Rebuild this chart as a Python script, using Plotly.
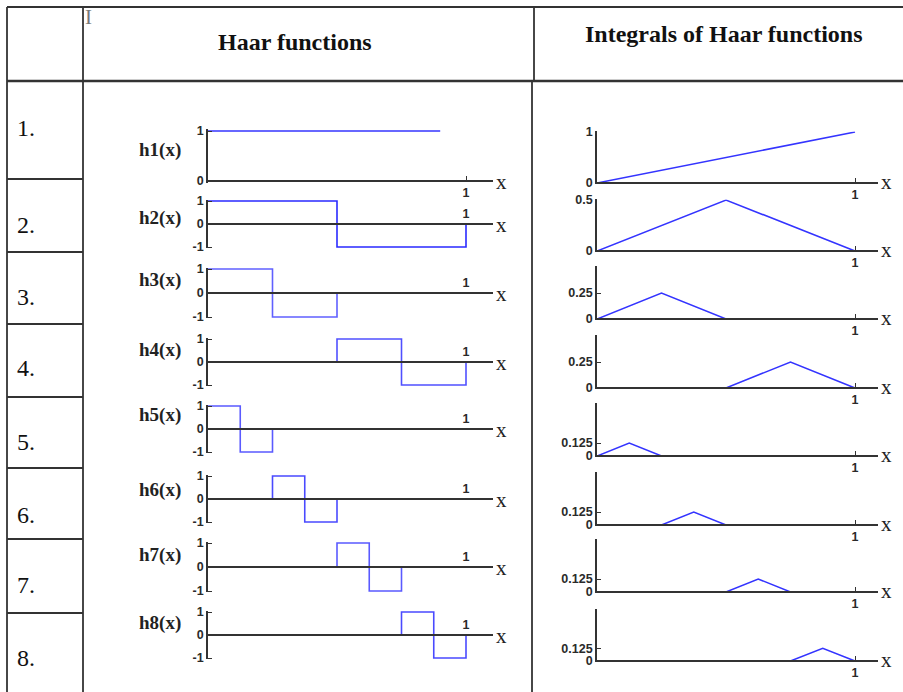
import plotly.graph_objects as go

W, H = 903, 692

# ---------------- data ----------------
row_numbers = ["1.", "2.", "3.", "4.", "5.", "6.", "7.", "8."]
haar_labels = ["h1(x)", "h2(x)", "h3(x)", "h4(x)", "h5(x)", "h6(x)", "h7(x)", "h8(x)"]

haar_x = [
    [0, 0.9],
    [0, 0.5, 1],
    [0, 0.25, 0.5, 1],
    [0, 0.5, 0.75, 1],
    [0, 0.125, 0.25, 1],
    [0, 0.25, 0.375, 0.5, 1],
    [0, 0.5, 0.625, 0.75, 1],
    [0, 0.75, 0.875, 1],
]
haar_y = [
    [1, 1],
    [1, -1, 0],
    [1, -1, 0, 0],
    [0, 1, -1, 0],
    [1, -1, 0, 0],
    [0, 1, -1, 0, 0],
    [0, 1, -1, 0, 0],
    [0, 1, -1, 0],
]

int_x = [
    [0, 1],
    [0, 0.5, 1],
    [0, 0.25, 0.5, 1],
    [0, 0.5, 0.75, 1],
    [0, 0.125, 0.25, 1],
    [0, 0.25, 0.375, 0.5, 1],
    [0, 0.5, 0.625, 0.75, 1],
    [0, 0.75, 0.875, 1],
]
int_y = [
    [0, 1],
    [0, 0.5, 0],
    [0, 0.25, 0, 0],
    [0, 0, 0.25, 0],
    [0, 0.125, 0, 0],
    [0, 0, 0.125, 0, 0],
    [0, 0, 0.125, 0, 0],
    [0, 0, 0.125, 0],
]
int_ticks = [[0, 1], [0, 0.5], [0, 0.25], [0, 0.25], [0, 0.125], [0, 0.125], [0, 0.125], [0, 0.125]]
int_ticktext = [["0", "1"], ["0", "0.5"], ["0", "0.25"], ["0", "0.25"],
                ["0", "0.125"], ["0", "0.125"], ["0", "0.125"], ["0", "0.125"]]
int_ymax = [1, 0.5, 0.5, 0.5, 0.5, 0.5, 0.5, 0.5]

# ---------------- layout geometry (pixels) ----------------
haar_top = [131, 201, 269, 339, 406, 476, 543, 612]
haar_zero = [181, 224, 293, 362, 429, 499, 567, 635]
haar_label_y = [150, 218, 280, 350, 415, 490, 555, 623]
int_top = [132, 200, 267, 336, 404, 473, 540, 610]
int_zero = [183, 251, 319, 388, 456, 525, 592, 661]
number_y = [128, 225, 297, 368, 442, 515, 585, 658]
row_sep = [179, 252, 324, 397, 468, 539, 613]

haar_colors = ["#3535ff", "#2a2aff", "#6060ff", "#5050ff", "#5a5aff", "#4a4aff", "#5a5aff", "#4a4aff"]

LX0, LX1, L_ONE = 208, 493, 466
RX0, RX1, R_ONE = 597, 878, 855
AXC = "#333333"
TICKFONT = dict(family="Liberation Sans, Arial", size=12.5, color="#2a2a2a", weight="bold")
SERIF = "Liberation Serif, Times New Roman"


def px_to_paper_y(p):
    return 1 - p / H


def domain_for(p_top, v_top, p_zero, lo, hi):
    ppu = (p_zero - p_top) / v_top
    top_px = p_zero - hi * ppu
    bot_px = p_zero - lo * ppu
    return [px_to_paper_y(bot_px), px_to_paper_y(top_px)]


fig = go.Figure()
layout = dict(
    template="none",
    width=W, height=H, autosize=False,
    margin=dict(l=0, r=0, t=0, b=0, pad=0, autoexpand=False),
    paper_bgcolor="white", plot_bgcolor="rgba(0,0,0,0)",
    showlegend=False,
)
annotations = []
shapes = []

common = dict(showline=True, linecolor=AXC, linewidth=1.8, showgrid=False, zeroline=False,
              ticklen=4, tickwidth=1.2, tickcolor=AXC, tickfont=TICKFONT, fixedrange=True,
              automargin=False)

for i in range(8):
    # ---------- left: Haar functions ----------
    k = 2 * i + 1
    xa, ya = ("x" if k == 1 else f"x{k}"), ("y" if k == 1 else f"y{k}")
    xk, yk = ("xaxis" if k == 1 else f"xaxis{k}"), ("yaxis" if k == 1 else f"yaxis{k}")
    if i == 0:
        lo, hi = -0.04, 1.05
        yt = [0, 1]
    else:
        lo, hi = -1.05, 1.05
        yt = [-1, 0, 1]
    ydom = domain_for(haar_top[i], 1, haar_zero[i], lo, hi)
    xmax = (LX1 - LX0) / (L_ONE - LX0)
    fig.add_trace(go.Scatter(x=haar_x[i], y=haar_y[i], mode="lines", line_shape="hv",
                             line=dict(color=haar_colors[i], width=1.6),
                             xaxis=xa, yaxis=ya, hoverinfo="skip"))
    layout[xk] = dict(domain=[LX0 / W, LX1 / W], range=[0, xmax], anchor="free",
                      position=px_to_paper_y(haar_zero[i]),
                      side="bottom" if i == 0 else "top",
                      tickvals=[1], ticktext=["1"], ticks="inside" if i == 0 else "", **common)
    layout[yk] = dict(domain=ydom, range=[lo, hi], anchor=xa,
                      tickvals=yt, ticktext=[str(v) for v in yt], ticks="inside", **common)
    annotations.append(dict(text=haar_labels[i], x=160 / W, y=px_to_paper_y(haar_label_y[i]),
                            xref="paper", yref="paper", showarrow=False, xanchor="center", yanchor="middle",
                            font=dict(family=SERIF, size=19, color="#222", weight="bold")))
    annotations.append(dict(text="x", x=501 / W, y=px_to_paper_y(haar_zero[i] + 1),
                            xref="paper", yref="paper", showarrow=False, xanchor="center", yanchor="middle",
                            font=dict(family=SERIF, size=21, color="#222")))

    # ---------- right: integrals ----------
    k = 2 * i + 2
    xa, ya = f"x{k}", f"y{k}"
    xk, yk = f"xaxis{k}", f"yaxis{k}"
    ymax = int_ymax[i]
    lo, hi = -0.025 * ymax, ymax * 1.01
    ydom = domain_for(int_top[i], ymax, int_zero[i], lo, hi)
    xmax = (RX1 - RX0) / (R_ONE - RX0)
    fig.add_trace(go.Scatter(x=int_x[i], y=int_y[i], mode="lines",
                             line=dict(color="#3434ff", width=1.6),
                             xaxis=xa, yaxis=ya, hoverinfo="skip"))
    layout[xk] = dict(domain=[RX0 / W, RX1 / W], range=[0, xmax], anchor="free",
                      position=px_to_paper_y(int_zero[i]), side="bottom",
                      tickvals=[1], ticktext=["1"], ticks="inside", **common)
    layout[yk] = dict(domain=ydom, range=[lo, hi], anchor=xa,
                      tickvals=int_ticks[i], ticktext=int_ticktext[i], ticks="inside", **common)
    annotations.append(dict(text="x", x=886 / W, y=px_to_paper_y(int_zero[i] - 1),
                            xref="paper", yref="paper", showarrow=False, xanchor="center", yanchor="middle",
                            font=dict(family=SERIF, size=21, color="#222")))

    # ---------- row numbers ----------
    annotations.append(dict(text=row_numbers[i], x=15 / W, y=px_to_paper_y(number_y[i]),
                            xref="paper", yref="paper", showarrow=False, xanchor="left", yanchor="middle",
                            font=dict(family=SERIF, size=24, color="#111")))

# headers
annotations.append(dict(text="Haar functions", x=295 / W, y=px_to_paper_y(42),
                        xref="paper", yref="paper", showarrow=False, xanchor="center", yanchor="middle",
                        font=dict(family=SERIF, size=24, color="#111", weight="bold")))
annotations.append(dict(text="Integrals of Haar functions", x=724 / W, y=px_to_paper_y(34),
                        xref="paper", yref="paper", showarrow=False, xanchor="center", yanchor="middle",
                        font=dict(family=SERIF, size=24, color="#111", weight="bold")))
# text cursor glyph
annotations.append(dict(text="I", x=88 / W, y=px_to_paper_y(17),
                        xref="paper", yref="paper", showarrow=False, xanchor="center", yanchor="middle",
                        font=dict(family=SERIF, size=21, color="#777")))

LC = "#333333"


def hline(py, x0, x1, w=2):
    shapes.append(dict(type="line", xref="paper", yref="paper", x0=x0 / W, x1=x1 / W,
                       y0=px_to_paper_y(py), y1=px_to_paper_y(py), line=dict(color=LC, width=w)))


def vline(px, y0, y1, w=2):
    shapes.append(dict(type="line", xref="paper", yref="paper", x0=px / W, x1=px / W,
                       y0=px_to_paper_y(y0), y1=px_to_paper_y(y1), line=dict(color=LC, width=w)))


hline(7, 7, W, 1.8)
hline(81, 7, W, 2.6)
vline(7, 7, H, 1.8)
vline(83, 7, H, 1.8)
vline(534, 7, 81, 1.8)
vline(532, 81, H, 1.8)
for ry in row_sep:
    hline(ry, 7, 83, 1.8)

layout["annotations"] = annotations
layout["shapes"] = shapes
fig.update_layout(**layout)
fig.write_html("out.html")
